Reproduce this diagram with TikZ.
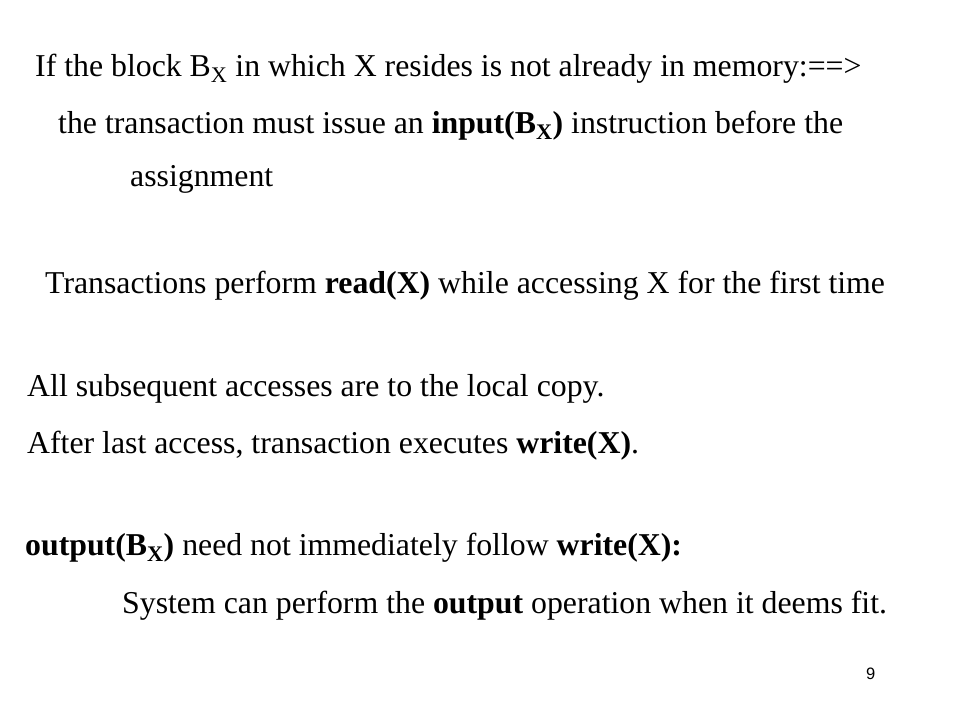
\documentclass[tikz,border=0pt]{standalone}
\usepackage{fontspec}
\setmainfont{Liberation Serif}
\newfontfamily\numfont{Liberation Sans}
\usepackage{tikz}
\tikzset{slidetext/.style={anchor=base west, inner sep=0pt, font=\fontsize{31.8}{38}\selectfont}}
\begin{document}
\begin{tikzpicture}[x=1pt, y=-1pt]
            \useasboundingbox (0, 0) rectangle (960, 720);
            \node[slidetext] (cond) at (35, 76) {If the block B\textsubscript{X} in which X resides is not already in memory:==>};
            \node[slidetext] (input) at (58, 133) {the transaction must issue an \textbf{input(B\textsubscript{X})} instruction before the};
            \node[slidetext] (assign) at (130, 186) {assignment};
            \node[slidetext] (read) at (45, 293) {Transactions perform \textbf{read(X)} while accessing X for the first time};
            \node[slidetext] (local) at (27, 396) {All subsequent accesses are to the local copy.};
            \node[slidetext] (write) at (27, 453) {After last access, transaction executes \textbf{write(X)}.};
            \node[slidetext] (output) at (25, 555) {\textbf{output(B\textsubscript{X})} need not immediately follow \textbf{write(X):}};
            \node[slidetext] (system) at (122, 613) {System can perform the \textbf{output} operation when it deems fit.};
            \node[anchor=base west, inner sep=0pt, font=\numfont\fontsize{16.5}{20}\selectfont] (page) at (866, 679) {9};
        \end{tikzpicture}
\end{document}
